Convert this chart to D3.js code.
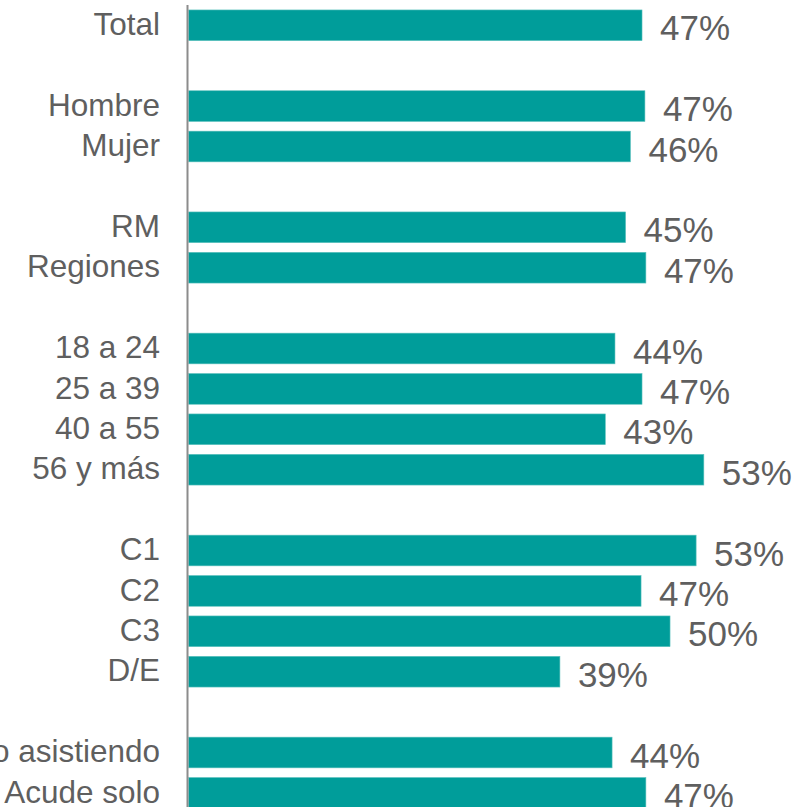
<!DOCTYPE html>
<meta charset="utf-8">
<head>
	<title>Barras</title>
</head>

<style>
	body { margin: 0; background: #fff; }
	text { font-family: "Liberation Sans", Arial, sans-serif; fill: #5f5f5f; }
</style>

<body>
	<svg width="808" height="807"></svg>

	<script src="https://cdn.jsdelivr.net/npm/d3@7"></script>
	<script>
// rows, blank entries ("") are the gaps between groups
var categories = ["Total", "", "Hombre", "Mujer", "", "RM", "Regiones", "",
	"18 a 24", "25 a 39", "40 a 55", "56 y más", "",
	"C1", "C2", "C3", "D/E", "",
	"Acompañado asistiendo", "Acude solo"];
var values = [47.0, null, 47.3, 45.8, null, 45.3, 47.4, null,
	44.2, 47.0, 43.2, 53.4, null,
	52.6, 46.9, 49.9, 38.5, null,
	43.9, 47.4];
var valueLabels = ["47%", "", "47%", "46%", "", "45%", "47%", "",
	"44%", "47%", "43%", "53%", "",
	"53%", "47%", "50%", "39%", "",
	"44%", "47%"];

var data = categories.map(function(c, i) {
	return {key: "r" + i, name: c, value: values[i], label: valueLabels[i]};
});

var svg = d3.select('svg');
var left = 188;

var x = d3.scaleLinear().domain([0, 60]).range([left, left + 579.6]);
var y = d3.scaleBand()
	.domain(data.map(function(d) {return d.key;}))
	.range([5.1, 813.1])
	.paddingInner(0.24)
	.paddingOuter(0.12);

var rows = data.filter(function(d) {return d.value !== null;});

svg.selectAll('rect.bar')
	.data(rows)
	.enter()
	.append('rect')
	.attr('class', 'bar')
	.attr('x', x(0) + 0.7)
	.attr('y', function(d) {return y(d.key);})
	.attr('width', function(d) {return x(d.value) - x(0) - 0.7;})
	.attr('height', y.bandwidth())
	.style('fill', '#009D9A')
	.style('stroke', '#5cc1bd')
	.style('stroke-width', 0.6);

// category labels
svg.selectAll('text.cat')
	.data(rows)
	.enter()
	.append('text')
	.attr('class', 'cat')
	.attr('x', 160)
	.attr('y', function(d) {return y(d.key) + y.bandwidth() / 2;})
	.attr('dy', '0.31em')
	.attr('text-anchor', 'end')
	.style('font-size', '31.5px')
	.text(function(d) {return d.name;});

// value labels
svg.selectAll('text.val')
	.data(rows)
	.enter()
	.append('text')
	.attr('class', 'val')
	.attr('x', function(d) {return x(d.value) + 18;})
	.attr('y', function(d) {return y(d.key) + y.bandwidth() / 2 + 15;})
	.style('font-size', '35px')
	.text(function(d) {return d.label;});

// vertical axis line
svg.append('line')
	.attr('x1', left - 0.5)
	.attr('x2', left - 0.5)
	.attr('y1', 5)
	.attr('y2', 807)
	.style('stroke', '#8c8c8c')
	.style('stroke-width', 2);
	</script>
</body>
</html>
